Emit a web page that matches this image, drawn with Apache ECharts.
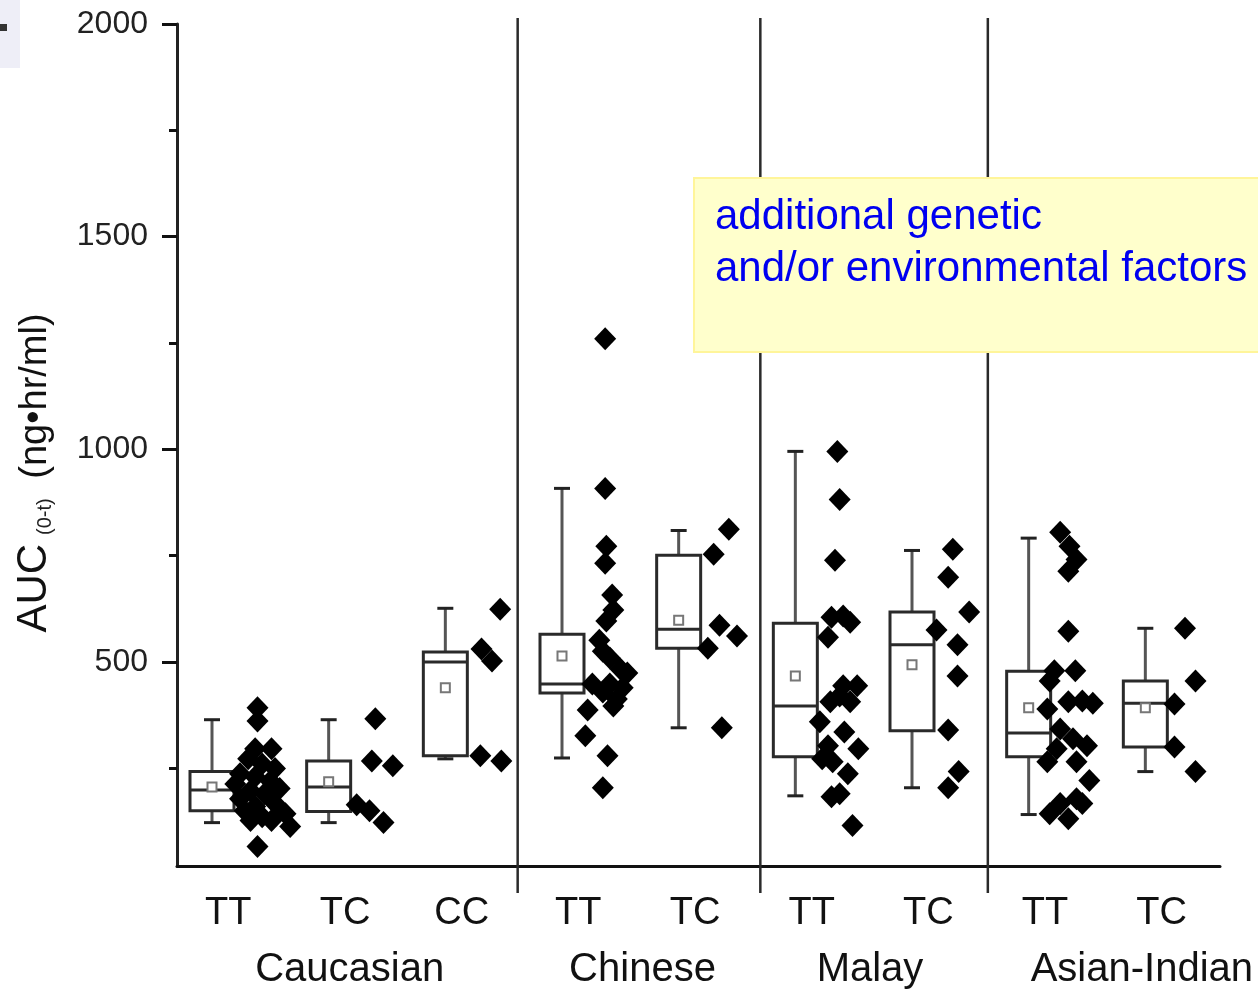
<!DOCTYPE html>
<html>
<head>
<meta charset="utf-8">
<script src="https://cdn.jsdelivr.net/npm/echarts@6/dist/echarts.min.js"></script>
<style>html,body{margin:0;padding:0;background:#fff}#c{width:1258px;height:990px}</style>
</head>
<body>
<div id="c"></div>
<script>
// ---------- data ----------
const genotypes = ['TT', 'TC', 'CC', 'TT', 'TC', 'TT', 'TC', 'TT', 'TC'];
const groups = ['Caucasian', 'Chinese', 'Malay', 'Asian-Indian'];
const yTicks = [500, 1000, 1500, 2000];
const yMinorTicks = [250, 750, 1250, 1750];
// [lower whisker, Q1, median, Q3, upper whisker]
const boxStats = [
  [122, 150, 199, 242, 364],
  [122, 148, 206, 267, 364],
  [272, 279, 500, 523, 626],
  [274, 427, 448, 565, 908],
  [345, 532, 577, 751, 809],
  [185, 277, 396, 591, 995],
  [204, 338, 540, 617, 762],
  [141, 277, 333, 478, 791],
  [242, 300, 403, 455, 579]
];
const means = [206, 218, 439, 514, 598, 467, 493, 392, 392];
// individual subjects: [x position (category units, jittered), AUC]
const cauTT = [[0.39,392],[0.39,361],[0.37,296],[0.51,296],[0.31,272],[0.43,260],[0.54,249],[0.24,237],[0.37,230],[0.50,220],[0.20,213],[0.58,202],[0.33,197],[0.45,190],[0.24,178],[0.54,167],[0.37,160],[0.28,150],[0.63,143],[0.43,136],[0.33,127],[0.51,127],[0.67,113],[0.39,66]];
const cauTC = [[1.40,366],[1.37,267],[1.55,256],[1.24,164],[1.35,150],[1.47,122]];
const cauCC = [[2.47,624],[2.31,530],[2.40,502],[2.30,279],[2.48,267]];
const chiTT = [[3.37,1260],[3.37,908],[3.38,772],[3.37,732],[3.43,657],[3.44,622],[3.38,596],[3.32,551],[3.35,525],[3.41,509],[3.50,483],[3.56,474],[3.26,448],[3.41,448],[3.52,439],[3.35,429],[3.47,413],[3.44,396],[3.22,387],[3.20,326],[3.39,279],[3.35,204]];
const chiTC = [[4.43,812],[4.30,753],[4.35,586],[4.50,561],[4.25,532],[4.37,345]];
const malTT = [[5.36,995],[5.38,882],[5.34,739],[5.31,605],[5.41,608],[5.47,593],[5.28,558],[5.41,444],[5.53,444],[5.30,406],[5.47,406],[5.38,420],[5.21,359],[5.42,335],[5.28,303],[5.54,296],[5.23,272],[5.32,265],[5.45,237],[5.38,190],[5.31,183],[5.49,115]];
const malTC = [[6.35,765],[6.31,699],[6.49,617],[6.21,575],[6.39,540],[6.39,467],[6.31,340],[6.40,242],[6.31,204]];
const indTT = [[7.27,805],[7.35,772],[7.41,741],[7.34,713],[7.34,572],[7.22,479],[7.40,479],[7.18,455],[7.16,389],[7.34,406],[7.46,408],[7.55,403],[7.27,342],[7.38,319],[7.50,303],[7.24,296],[7.16,265],[7.41,265],[7.52,221],[7.46,167],[7.27,167],[7.18,143],[7.34,131],[7.41,178]];
const indTC = [[8.34,579],[8.43,455],[8.25,401],[8.25,300],[8.43,242]];
const groupDividers = [2.62, 4.70, 6.65];
const groupLabelPos = [1.18, 3.69, 5.64, 7.97];
const annotation = 'additional genetic\nand/or environmental factors';

// ---------- chart ----------
const FONT = "'Liberation Sans', Arial, Helvetica, sans-serif";
const LABEL_SHIFT = 0.14;
const chart = echarts.init(document.getElementById('c'), null, {renderer: 'canvas'});

const boxData = boxStats.map((s, i) => [i, s[0], s[1], s[2], s[3], s[4], means[i]]);
const allPoints = [].concat(cauTT, cauTC, cauCC, chiTT, chiTC, malTT, malTC, indTT, indTC);

const X_MIN = -0.3, X_MAX = 8.64, Y_MIN = 20, Y_MAX = 2000;

const option = {
  backgroundColor: '#fff',
  animation: false,
  grid: {left: 177, right: 38, top: 24, bottom: 122, containLabel: false},
  xAxis: [
    {
      type: 'value', min: X_MIN, max: X_MAX,
      axisLine: {show: true, onZero: false, lineStyle: {color: '#111', width: 3}},
      axisTick: {show: false},
      splitLine: {show: false},
      axisLabel: {
        customValues: genotypes.map((g, i) => i + LABEL_SHIFT),
        formatter: v => genotypes[Math.round(v - LABEL_SHIFT)] || '',
        fontSize: 38, fontFamily: FONT, color: '#111', margin: 29
      }
    },
    {
      type: 'value', min: X_MIN, max: X_MAX, position: 'bottom',
      axisLine: {show: false, onZero: false}, axisTick: {show: false}, splitLine: {show: false},
      axisLabel: {
        customValues: groupLabelPos,
        formatter: v => {
          let best = 0;
          groupLabelPos.forEach((p, i) => { if (Math.abs(p - v) < Math.abs(groupLabelPos[best] - v)) best = i; });
          return groups[best];
        },
        fontSize: 40, fontFamily: FONT, color: '#111', margin: 84
      }
    }
  ],
  yAxis: [
    {
      type: 'value', min: Y_MIN, max: Y_MAX,
      name: '{a|AUC}{s|(0-t)}{b| (ng•hr/ml)}',
      nameLocation: 'middle', nameRotate: 90, nameGap: 122,
      nameTextStyle: {
        fontFamily: FONT, color: '#111', padding: [0, 56, 0, 0],
        rich: {
          a: {fontSize: 42, fontFamily: FONT, color: '#111', lineHeight: 48, verticalAlign: 'bottom'},
          b: {fontSize: 38, fontFamily: FONT, color: '#111', lineHeight: 48, verticalAlign: 'bottom'},
          s: {fontSize: 20, fontFamily: FONT, color: '#222', lineHeight: 36, verticalAlign: 'bottom', padding: [0, 9, 0, 9]}
        }
      },
      axisLine: {show: true, onZero: false, lineStyle: {color: '#222', width: 3}},
      axisTick: {show: true, customValues: yTicks, length: 15, inside: false, lineStyle: {color: '#111', width: 3}},
      axisLabel: {customValues: yTicks, formatter: v => String(v), fontSize: 32, fontFamily: FONT, color: '#222', margin: 29},
      splitLine: {show: false}
    },
    {
      type: 'value', min: Y_MIN, max: Y_MAX, position: 'left',
      axisLine: {show: false, onZero: false},
      axisTick: {show: true, customValues: yMinorTicks, length: 8, lineStyle: {color: '#111', width: 3}},
      axisLabel: {show: false},
      splitLine: {show: false}
    }
  ],
  series: [
    {
      type: 'custom', name: 'dividers', xAxisIndex: 0, yAxisIndex: 0, clip: false, z: 1,
      data: groupDividers.map(d => [d, Y_MAX]),
      renderItem: (params, api) => {
        const top = api.coord([api.value(0), Y_MAX]);
        const bot = api.coord([api.value(0), Y_MIN]);
        return {
          type: 'line',
          shape: {x1: top[0], y1: top[1] - 6, x2: bot[0], y2: bot[1] + 27},
          style: {stroke: '#2a2a2a', lineWidth: 2.5}
        };
      }
    },
    {
      type: 'custom', name: 'boxes', xAxisIndex: 0, yAxisIndex: 0, z: 3,
      data: boxData,
      renderItem: (params, api) => {
        const x = api.value(0);
        const lo = api.coord([x, api.value(1)]);
        const q1 = api.coord([x, api.value(2)]);
        const md = api.coord([x, api.value(3)]);
        const q3 = api.coord([x, api.value(4)]);
        const hi = api.coord([x, api.value(5)]);
        const mn = api.coord([x, api.value(6)]);
        const cx = lo[0], hw = 22, cap = 8, ms = 4.5;
        return {
          type: 'group',
          children: [
            {type: 'line', shape: {x1: cx, y1: hi[1], x2: cx, y2: q3[1]}, style: {stroke: '#555', lineWidth: 3}},
            {type: 'line', shape: {x1: cx, y1: q1[1], x2: cx, y2: lo[1]}, style: {stroke: '#555', lineWidth: 3}},
            {type: 'line', shape: {x1: cx - cap, y1: hi[1], x2: cx + cap, y2: hi[1]}, style: {stroke: '#222', lineWidth: 3}},
            {type: 'line', shape: {x1: cx - cap, y1: lo[1], x2: cx + cap, y2: lo[1]}, style: {stroke: '#222', lineWidth: 3}},
            {type: 'rect', shape: {x: cx - hw, y: q3[1], width: 2 * hw, height: q1[1] - q3[1]}, style: {fill: '#fff', stroke: '#2a2a2a', lineWidth: 3}},
            {type: 'line', shape: {x1: cx - hw, y1: md[1], x2: cx + hw, y2: md[1]}, style: {stroke: '#2a2a2a', lineWidth: 3}},
            {type: 'rect', shape: {x: cx - ms, y: mn[1] - ms, width: 2 * ms, height: 2 * ms}, style: {fill: '#fff', stroke: '#777', lineWidth: 2}}
          ]
        };
      }
    },
    {
      type: 'scatter', name: 'subjects', xAxisIndex: 0, yAxisIndex: 0, z: 4,
      symbol: 'diamond', symbolSize: [22, 23],
      itemStyle: {color: '#000', opacity: 1},
      data: allPoints
    }
  ],
  graphic: [
    {type: 'rect', z: 100, shape: {x: 0, y: 0, width: 20, height: 68}, style: {fill: '#EEEEF7'}},
    {type: 'rect', z: 101, shape: {x: 0, y: 24, width: 7, height: 7}, style: {fill: '#333'}},
    {type: 'rect', z: 100, shape: {x: 694, y: 178, width: 580, height: 174}, style: {fill: '#FFFFCC', stroke: '#FFF59A', lineWidth: 2}},
    {type: 'text', z: 101, x: 715, y: 191, style: {text: annotation, fill: '#0000F0', font: "42px 'Liberation Sans', Arial, sans-serif", lineHeight: 52}}
  ]
};
chart.setOption(option);
</script>
</body>
</html>
